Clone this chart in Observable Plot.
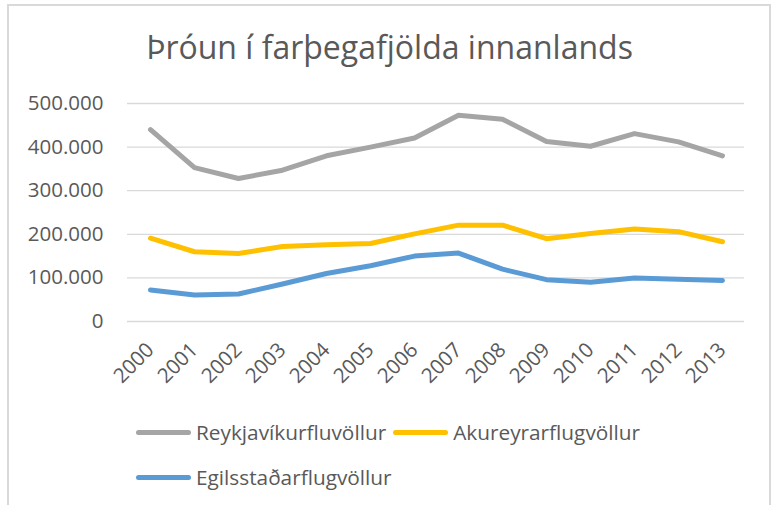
<!DOCTYPE html>
<html>
<head>
<meta charset="utf-8">
<script src="https://cdn.jsdelivr.net/npm/d3@7"></script>
<script src="https://cdn.jsdelivr.net/npm/@observablehq/plot@0.6"></script>
<style>
  html, body { margin: 0; padding: 0; background: #fff; }
  #wrap { position: relative; width: 779px; height: 505px; overflow: hidden; font-family: "Open Sans", sans-serif; color: #595959; }
  #frame { position: absolute; left: 7px; top: 4px; width: 764px; height: 560px; border: 2px solid #d9d9d9; box-sizing: border-box; }
  #title { position: absolute; left: 0; width: 779px; top: 31px; text-align: center; font-size: 32px; line-height: 1; white-space: nowrap; }
  #chart { position: absolute; left: 0; top: 83px; }
  .legrow { position: absolute; left: 136px; display: flex; align-items: center; height: 20px; font-size: 20.8px; line-height: 1; white-space: nowrap; }
  .item { display: flex; align-items: center; margin-right: 7px; }
  .sw { width: 55px; height: 5px; border-radius: 3px; margin-right: 5px; }
</style>
</head>
<body>
<div id="wrap">
  <div id="frame"></div>
  <div id="title">Þróun í farþegafjölda innanlands</div>
  <div id="chart"></div>
  <div class="legrow" id="leg1" style="top:422px"></div>
  <div class="legrow" id="leg2" style="top:467px"></div>
</div>
<script>
const years = ["2000","2001","2002","2003","2004","2005","2006","2007","2008","2009","2010","2011","2012","2013"];
const seriesNames = ["Reykjavíkurfluvöllur", "Akureyrarflugvöllur", "Egilsstaðarflugvöllur"];
const seriesColors = ["#a5a5a5", "#ffc000", "#5b9bd5"];
const reykjavik = [440000, 353000, 328000, 347000, 380000, 400000, 421000, 473000, 464000, 413000, 402000, 431000, 412000, 380000];
const akureyri = [191000, 160000, 156000, 172000, 176000, 179000, 201000, 221000, 221000, 190000, 202000, 212000, 206000, 183000];
const egilsstadir = [72000, 61000, 63000, 86000, 110000, 128000, 150000, 157000, 120000, 96000, 90000, 100000, 97000, 94000];
const yTicks = [0, 100000, 200000, 300000, 400000, 500000];

const allValues = [reykjavik, akureyri, egilsstadir];
const data = seriesNames.flatMap((s, i) => years.map((y, j) => ({series: s, year: y, value: allValues[i][j]})));
const fmt = d => d3.format(",")(d).replace(/,/g, ".");

const plot = Plot.plot({
  width: 779,
  height: 317,
  marginTop: 20,
  marginBottom: 79,
  marginLeft: 127,
  marginRight: 35,
  style: {fontFamily: "Open Sans, sans-serif", fontSize: "20.5px", color: "#595959", background: "transparent"},
  x: {type: "point", domain: years, padding: 0.5},
  y: {domain: [0, 500000]},
  color: {domain: seriesNames, range: seriesColors},
  marks: [
    Plot.gridY(yTicks, {stroke: "#d9d9d9", strokeOpacity: 1, strokeWidth: 1.3}),
    Plot.axisY(yTicks, {tickSize: 0, tickPadding: 24, tickFormat: fmt, label: null}),
    Plot.axisX(years, {tickSize: 0, tickRotate: -45, tickPadding: 25, label: null}),
    Plot.line(data, {x: "year", y: "value", z: "series", stroke: "series", strokeWidth: 5, strokeLinecap: "round", strokeLinejoin: "round"})
  ]
});
document.getElementById("chart").appendChild(plot);

function addItem(row, i) {
  const it = document.createElement("div");
  it.className = "item";
  const sw = document.createElement("div");
  sw.className = "sw";
  sw.style.background = seriesColors[i];
  const tx = document.createElement("span");
  tx.textContent = seriesNames[i];
  it.appendChild(sw); it.appendChild(tx);
  document.getElementById(row).appendChild(it);
}
addItem("leg1", 0); addItem("leg1", 1); addItem("leg2", 2);
</script>
</body>
</html>
